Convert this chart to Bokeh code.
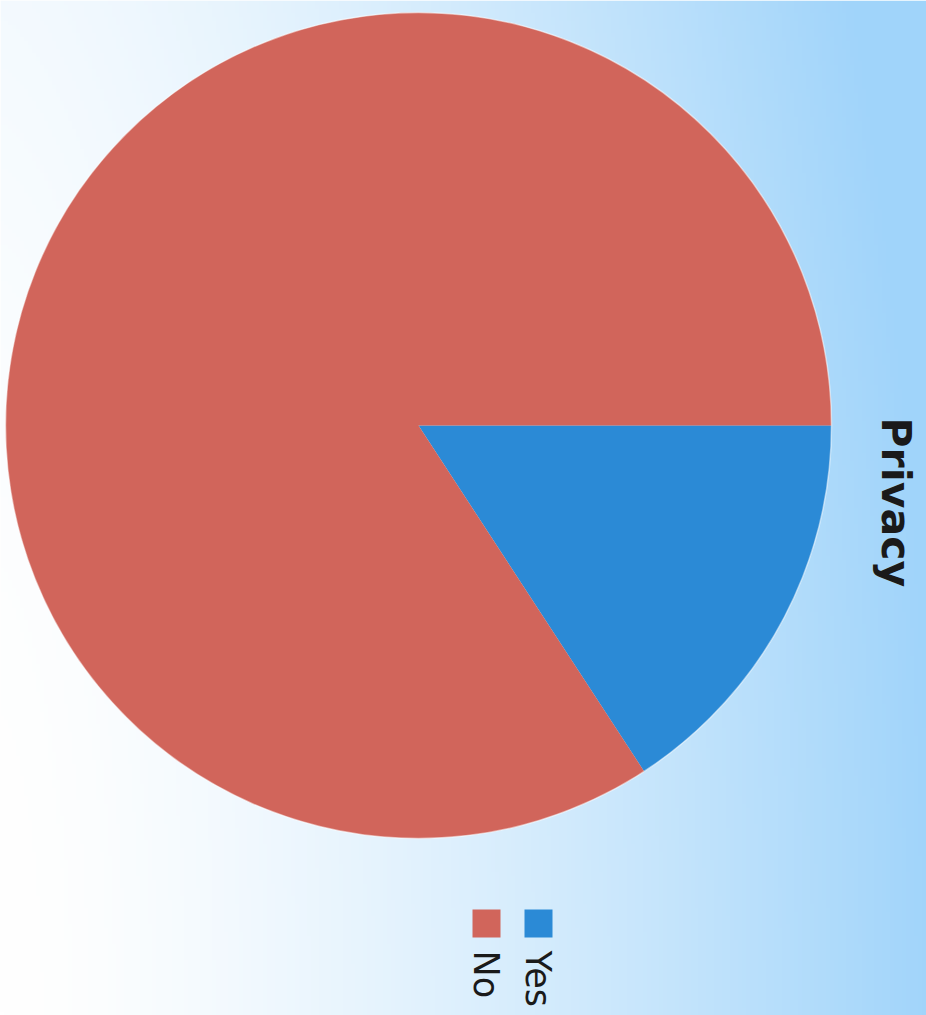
import numpy as np
from bokeh.plotting import figure
from bokeh.models import Range1d, ColumnDataSource
from bokeh.core.properties import value
from bokeh.embed import file_html
from bokeh.resources import INLINE

# ---- data ----
categories = ["Yes", "No"]
shares = [15.8, 84.2]
colors = ["#2B8AD6", "#D1655B"]
title_text = "Privacy"
legend_labels = ["No", "Yes"]
legend_colors = ["#D1655B", "#2B8AD6"]

# ---- figure ----
W, H = 926, 1015
p = figure(width=W, height=H, x_range=Range1d(0, W), y_range=Range1d(-H, 0),
           output_backend="svg", toolbar_location=None, min_border=0)
p.axis.visible = False
p.grid.visible = False
p.outline_line_color = None
p.background_fill_color = "white"
p.border_fill_color = "white"

# background gradient (white on the left to light blue on the right)
nx, ny = 232, 254
xs = np.linspace(0, 1, nx)[None, :]
ys = np.linspace(0, 1, ny)[:, None]  # 0 = bottom
s = np.clip(0.98 * xs ** 1.45 + 0.12 * ys ** 2, 0, 1)
c0 = np.array([255, 255, 255])
c1 = np.array([160, 212, 250])
img = np.empty((ny, nx), dtype=np.uint32)
view = img.view(dtype=np.uint8).reshape((ny, nx, 4))
for k in range(3):
    view[:, :, k] = (c0[k] + (c1[k] - c0[k]) * s).astype(np.uint8)
view[:, :, 3] = 255
p.image_rgba(image=[img], x=0, y=-H, dw=W, dh=H)

# pie (starts at 3 o'clock, runs clockwise)
vals = np.array(shares, dtype=float)
frac = vals / vals.sum()
cum = np.cumsum(frac) * 2 * np.pi
starts = -cum
ends = -(cum - frac * 2 * np.pi)
src = ColumnDataSource(dict(cat=categories, start=starts, end=ends, color=colors))
p.wedge(x=418, y=-425, radius=413, start_angle="start", end_angle="end",
        fill_color="color", line_color=None, source=src)
p.circle(x=418, y=-425, radius=413, fill_color=None, line_color="white",
         line_alpha=0.5, line_width=1.5)

# title (rotated)
p.text(x=[895], y=[-417], text=[title_text], angle=-np.pi / 2,
       text_font=value("DejaVu Sans"), text_font_style="bold", text_font_size="41px",
       text_color="#1a1a1a", text_align="left", text_baseline="alphabetic")

# legend (rotated)
lx = [486 + 52 * i for i in range(len(legend_labels))]
p.scatter(x=lx, y=[-923] * len(lx), marker="square", size=28,
          fill_color=legend_colors, line_color=None)
p.text(x=[v - 1 for v in lx], y=[-950] * len(lx), text=legend_labels, angle=-np.pi / 2,
       text_font=value("DejaVu Sans"), text_font_size="35px", text_color="#1a1a1a",
       text_align="left", text_baseline="alphabetic")

open("out.html", "w").write(file_html(p, INLINE))
